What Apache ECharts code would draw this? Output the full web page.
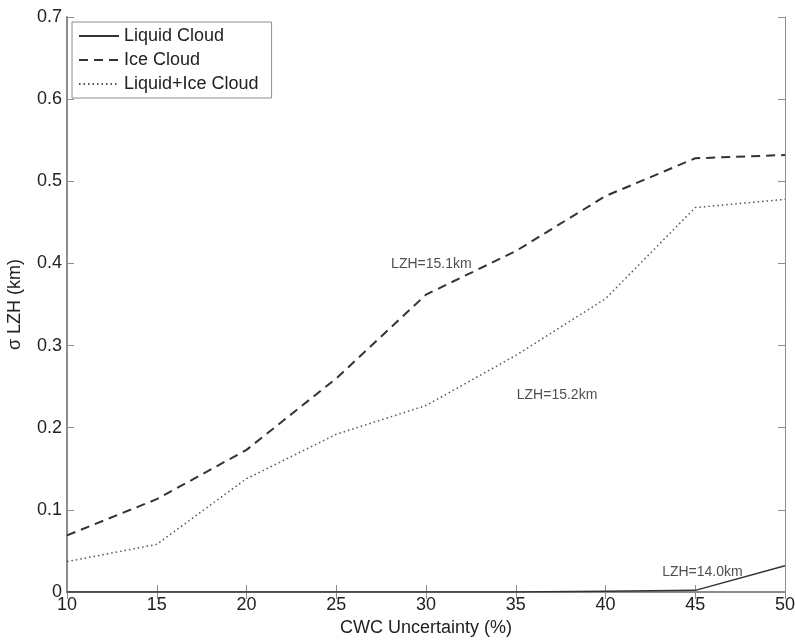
<!DOCTYPE html>
<html lang="en">
<head>
  <meta charset="UTF-8">
  <title>LZH uncertainty</title>
  <style>
    body { margin: 0; background: #fff; }
    #main { width: 795px; height: 643px; }
  </style>
  <script src="https://cdn.jsdelivr.net/npm/echarts@6/dist/echarts.min.js"></script>
</head>
<body>
<div id="main"></div>
<script>
  // data
  var cwc = [10, 15, 20, 25, 30, 35, 40, 45, 50];
  var liquid = [0, 0, 0, 0, 0, 0, 0.001, 0.002, 0.032];
  var ice = [0.069, 0.113, 0.173, 0.26, 0.362, 0.415, 0.482, 0.528, 0.532];
  var mixed = [0.037, 0.058, 0.138, 0.192, 0.227, 0.288, 0.357, 0.468, 0.478];
  var notes = [
    { x: 30.3, y: 0.399, text: 'LZH=15.1km' },
    { x: 37.3, y: 0.24, text: 'LZH=15.2km' },
    { x: 45.4, y: 0.024, text: 'LZH=14.0km' }
  ];

  function pairs(ys) {
    return cwc.map(function (x, i) { return [x, ys[i]]; });
  }

  var axisGrey = '#8c8c8c';
  var lineCol = '#333';
  var font = 'Liberation Sans, Arial, sans-serif';

  var myChart = echarts.init(document.getElementById('main'));
  var option = {
    backgroundColor: '#fff',
    animation: false,
    textStyle: { fontFamily: font },
    grid: { left: 67, right: 10, top: 17, bottom: 51, outerBoundsMode: 'none', containLabel: false },
    legend: {
      left: 72, top: 22,
      orient: 'vertical',
      itemGap: 6,
      itemWidth: 40,
      itemHeight: 14,
      padding: [5, 13, 5, 6],
      backgroundColor: '#fff',
      borderColor: axisGrey,
      borderWidth: 1,
      borderRadius: 0,
      itemStyle: { opacity: 0 },
      textStyle: { fontSize: 18, color: '#222', fontFamily: font },
      data: ['Liquid Cloud', 'Ice Cloud', 'Liquid+Ice Cloud']
    },
    xAxis: [{
      type: 'value', min: 10, max: 50, interval: 5,
      name: 'CWC Uncertainty (%)', nameLocation: 'middle', nameGap: 27,
      nameTextStyle: { fontSize: 18, color: '#222' },
      axisLine: { lineStyle: { color: axisGrey, width: 2 } },
      axisTick: { inside: true, length: 7, lineStyle: { color: axisGrey } },
      axisLabel: { fontSize: 18, color: '#222', margin: 4 },
      splitLine: { show: false }
    }, {
      type: 'value', min: 10, max: 50, interval: 5, position: 'top',
      axisLine: { show: true, lineStyle: { color: axisGrey } },
      axisTick: { inside: true, length: 7, lineStyle: { color: axisGrey } },
      axisLabel: { show: false },
      splitLine: { show: false }
    }],
    yAxis: [{
      type: 'value', min: 0, max: 0.7, interval: 0.1,
      name: 'σ LZH (km)', nameLocation: 'middle', nameGap: 43,
      nameTextStyle: { fontSize: 18, color: '#222' },
      axisLine: { show: true, lineStyle: { color: axisGrey, width: 2 } },
      axisTick: { inside: true, length: 7, lineStyle: { color: axisGrey } },
      axisLabel: { fontSize: 18, color: '#222', margin: 5 },
      splitLine: { show: false }
    }, {
      type: 'value', min: 0, max: 0.7, interval: 0.1, position: 'right',
      axisLine: { show: true, lineStyle: { color: axisGrey } },
      axisTick: { show: true, inside: true, length: 7, lineStyle: { color: axisGrey } },
      axisLabel: { show: false },
      splitLine: { show: false }
    }],
    series: [{
      name: 'Liquid Cloud', type: 'line', symbol: 'none',
      itemStyle: { color: lineCol },
      lineStyle: { color: lineCol, width: 1.5, type: 'solid' },
      data: pairs(liquid)
    }, {
      name: 'Ice Cloud', type: 'line', symbol: 'none',
      itemStyle: { color: lineCol },
      lineStyle: { color: lineCol, width: 2, type: [9, 6] },
      data: pairs(ice)
    }, {
      name: 'Liquid+Ice Cloud', type: 'line', symbol: 'none',
      itemStyle: { color: '#555' },
      lineStyle: { color: '#555', width: 1.5, type: [1.5, 3] },
      data: pairs(mixed)
    }, {
      name: 'notes', type: 'scatter', symbolSize: 0, silent: true,
      label: {
        show: true, position: 'inside', fontSize: 14, color: '#222',
        formatter: function (p) { return p.data.text; }
      },
      data: notes.map(function (n) { return { value: [n.x, n.y], text: n.text }; })
    }]
  };
  myChart.setOption(option);
</script>
</body>
</html>
